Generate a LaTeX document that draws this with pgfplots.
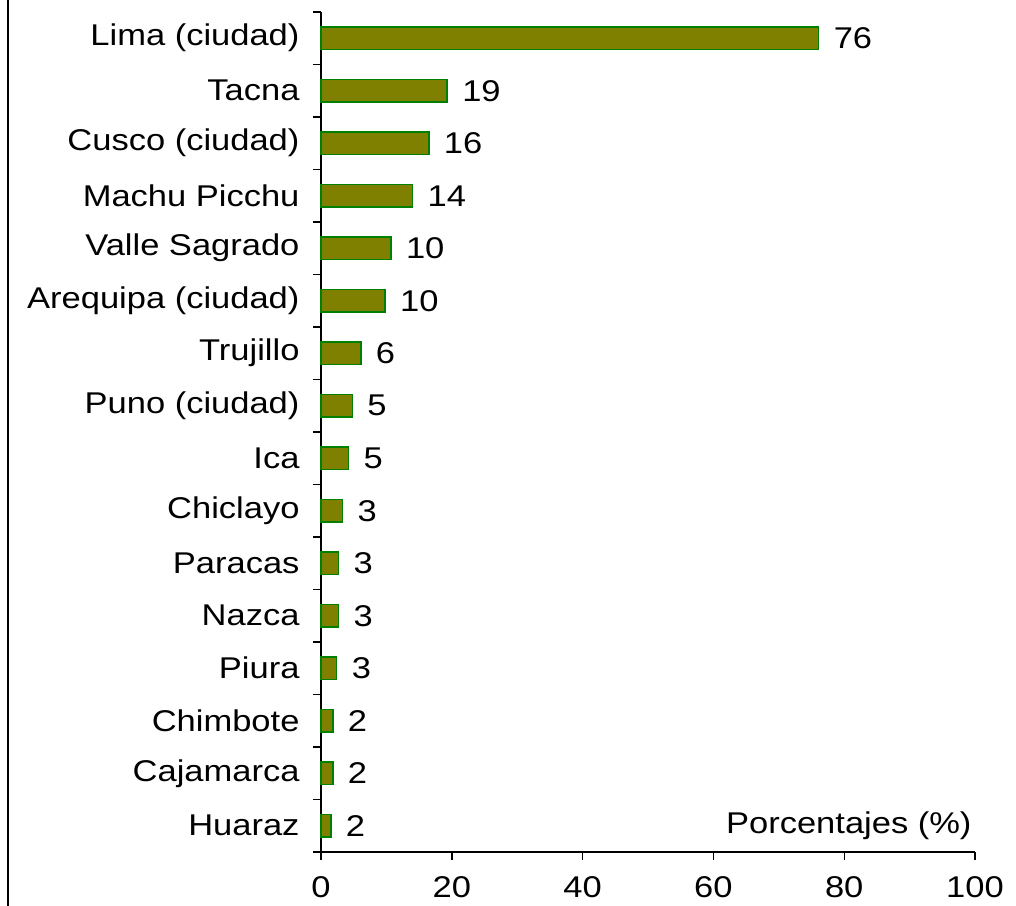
\documentclass[border=0pt]{standalone}
\usepackage{pgfplots}
\pgfplotsset{compat=1.18}
\usepackage{pgfplotstable}
\usepackage{fontspec}
\setmainfont[FakeStretch=1.15]{Liberation Sans}
\definecolor{barfill}{HTML}{808000}
\definecolor{barline}{HTML}{008000}
\newcommand\lbl{\fontsize{30bp}{36bp}\selectfont}
\pgfplotstableread{
y v lab
0 1.5 2
1 1.8 2
2 1.8 2
3 2.4 3
4 2.7 3
5 2.7 3
6 3.3 3
7 4.2 5
8 4.8 5
9 6.1 6
10 9.8 10
11 10.7 10
12 14.0 14
13 16.5 16
14 19.3 19
15 76.1 76
}\datatable
\begin{document}
\begin{tikzpicture}[x=1bp,y=1bp]
\path[use as bounding box] (0,0) rectangle (1016,906);
\draw[line width=2bp] (8,0) -- (8,906);
\begin{axis}[
  at={(321bp,54bp)}, anchor=south west,
  scale only axis, width=654bp, height=840bp,
  xmin=0, xmax=100, ymin=-0.5, ymax=15.5,
  axis lines=left, axis line style={-, line width=1.6bp},
  xtick={0,20,...,100},
  ytick={-0.5,0.5,...,15.5},
  yticklabels={},
  extra y ticks={0,...,15},
  extra y tick labels={Huaraz,Cajamarca,Chimbote,Piura,Nazca,Paracas,Chiclayo,Ica,Puno (ciudad),Trujillo,Arequipa (ciudad),Valle Sagrado,Machu Picchu,Cusco (ciudad),Tacna,Lima (ciudad)},
  extra y tick style={tick style={draw=none}},
  tick align=outside,
  major tick length=8bp,
  tick style={line width=1.4bp, black},
  every tick label/.style={font=\lbl, text=black},
  /pgf/number format/assume math mode=true,
  yticklabel style={xshift=-10bp},
  xticklabel style={yshift=-13bp},
  xbar, bar width=0.42,
  clip=false,
  nodes near coords,
  point meta=explicit symbolic,
  nodes near coords style={anchor=west, font=\lbl, xshift=11bp, text=black},
]
\addplot[fill=barfill, draw=barline, line width=1.5bp] table[x=v, y=y, meta=lab] {\datatable};
\node[anchor=east, font=\lbl, inner sep=0pt] at (axis cs:99.5,0) {Porcentajes (\%)};
\end{axis}
\end{tikzpicture}
\end{document}
